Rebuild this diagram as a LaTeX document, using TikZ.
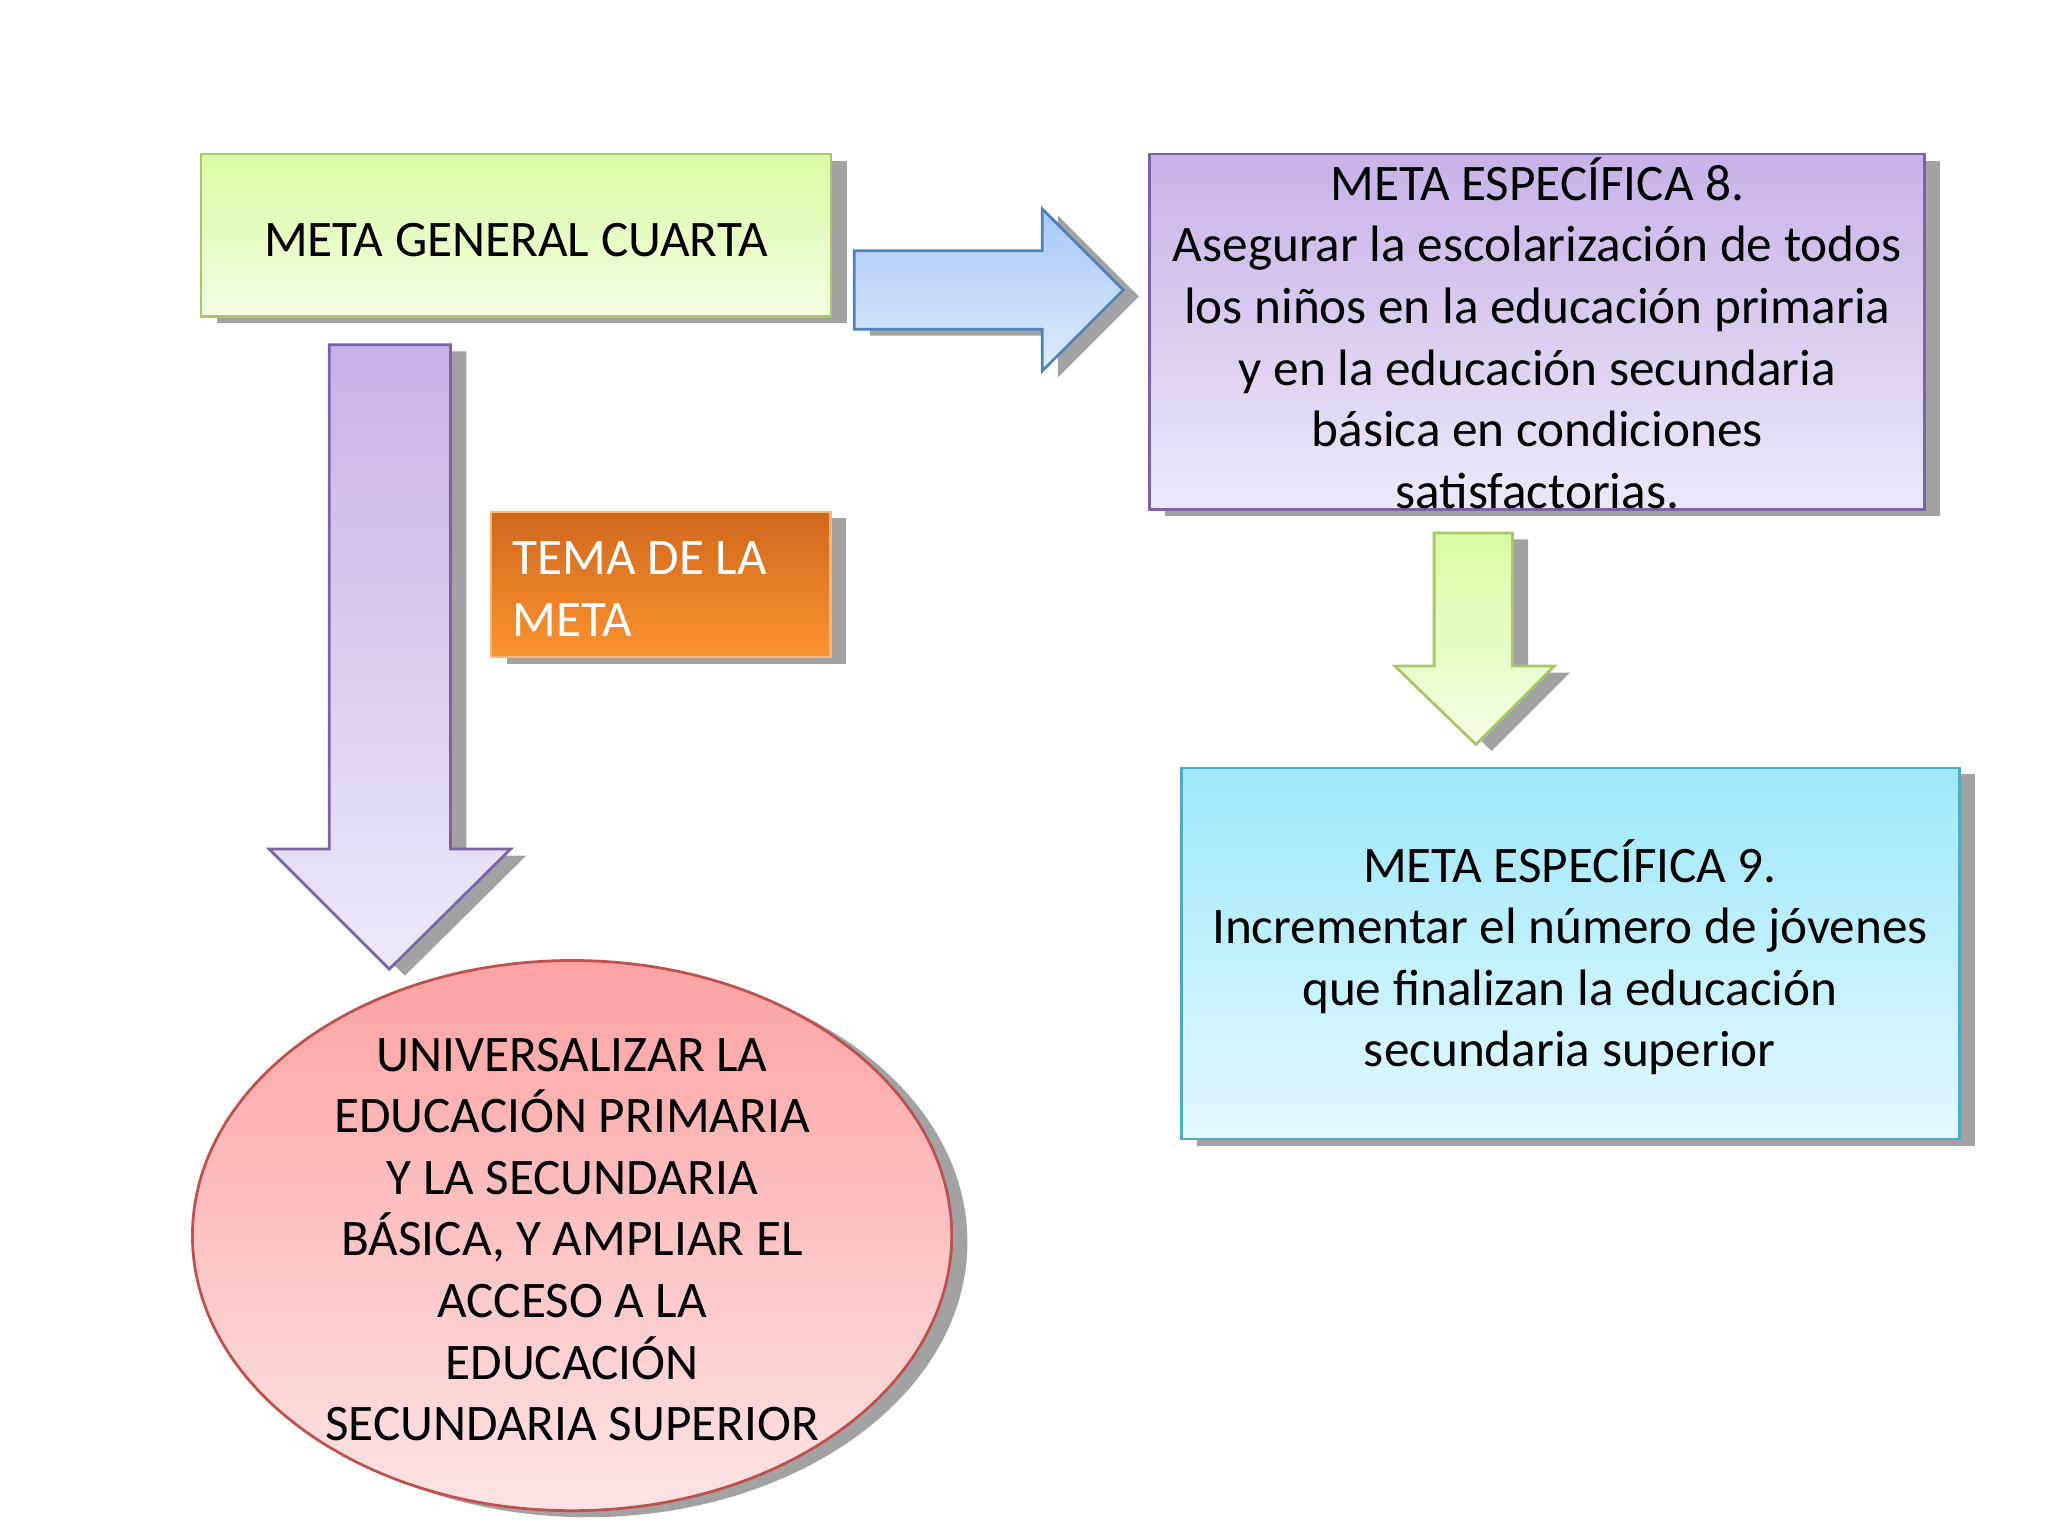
\documentclass[tikz,border=0pt]{standalone}
\usepackage{fontspec}
\setmainfont{Carlito}
\usetikzlibrary{shadows,shapes.geometric}
\definecolor{shd}{HTML}{A2A2A2}
\definecolor{gT}{HTML}{DAFBA4}
\definecolor{gB}{HTML}{F3FDE2}
\definecolor{gD}{HTML}{A9C66A}
\definecolor{bT}{HTML}{A8C8F8}
\definecolor{bB}{HTML}{DEEBFD}
\definecolor{bD}{HTML}{4F81BD}
\definecolor{pT}{HTML}{C8B2E8}
\definecolor{pB}{HTML}{EEE7F8}
\definecolor{pD}{HTML}{7A64A8}
\definecolor{cT}{HTML}{9EE8FC}
\definecolor{cB}{HTML}{E3F8FE}
\definecolor{cD}{HTML}{4BACC6}
\definecolor{oT}{HTML}{D0681C}
\definecolor{oB}{HTML}{FD9230}
\definecolor{oD}{HTML}{F9B77A}
\definecolor{rT}{HTML}{FCA2A2}
\definecolor{rB}{HTML}{FDE3E5}
\definecolor{rD}{HTML}{C0504D}
\begin{document}
\begin{tikzpicture}[x=0.01cm,y=-0.01cm,
  txt/.style={font=\fontsize{11.15}{13.4}\selectfont, align=center, inner sep=0},
  shbox/.style={inner sep=0, line width=0.6pt,
    drop shadow={shadow xshift=0.12cm, shadow yshift=-0.05cm, opacity=1, fill=shd}},
  shpoly/.style={fill=shd, xshift=0.12cm, yshift=-0.05cm},
  outline/.style={line width=0.6pt}]
\useasboundingbox (0,0) rectangle (1568,1176);

% META GENERAL CUARTA
\node[shbox, draw=gD, top color=gT, bottom color=gB,
      minimum width=4.82cm, minimum height=1.24cm] (mgc) at (395,180) {};
\node[txt] (mgct) at (395,184) {META GENERAL CUARTA};

% right block arrow
\path[shpoly] (654,192) -- (798,192) -- (798,160) -- (860,222) -- (798,284) -- (798,252) -- (654,252) -- cycle;
\path[outline, draw=bD, top color=bT, bottom color=bB]
  (654,192) -- (798,192) -- (798,160) -- (860,222) -- (798,284) -- (798,252) -- (654,252) -- cycle;

% META ESPECIFICA 8
\node[shbox, draw=pD, top color=pT, bottom color=pB,
      minimum width=5.93cm, minimum height=2.72cm] (me8) at (1176.5,254) {};
\node[txt] (me8t) at (1177,255) {META ESPECÍFICA 8.\\Asegurar la escolarización de todos\\los niños en la educación primaria\\y en la educación secundaria\\básica en condiciones\\satisfactorias.};

% green down arrow
\path[shpoly] (1098,408) -- (1158,408) -- (1158,510) -- (1190,510) -- (1130,570) -- (1068,510) -- (1098,510) -- cycle;
\path[outline, draw=gD, top color=gT, bottom color=gB]
  (1098,408) -- (1158,408) -- (1158,510) -- (1190,510) -- (1130,570) -- (1068,510) -- (1098,510) -- cycle;

% META ESPECIFICA 9
\node[shbox, draw=cD, top color=cT, bottom color=cB,
      minimum width=5.95cm, minimum height=2.84cm] (me9) at (1202.5,730) {};
\node[txt] (me9t) at (1202,733) {META ESPECÍFICA 9.\\Incrementar el número de jóvenes\\que finalizan la educación\\secundaria superior};

% purple down arrow
\path[shpoly] (252,264) -- (345,264) -- (345,650) -- (391,650) -- (298,742) -- (206,650) -- (252,650) -- cycle;
\path[outline, draw=pD, top color=pT, bottom color=pB]
  (252,264) -- (345,264) -- (345,650) -- (391,650) -- (298,742) -- (206,650) -- (252,650) -- cycle;

% TEMA DE LA META
\node[shbox, draw=oD, top color=oT, bottom color=oB,
      minimum width=2.60cm, minimum height=1.11cm] (tema) at (506,447.5) {};
\node[txt, align=left, anchor=west, text=white] (temat) at (392,451) {TEMA DE LA\\META};

% ellipse
\node[shbox, ellipse, draw=rD, top color=rT, bottom color=rB,
      minimum width=5.81cm, minimum height=4.21cm] (univ) at (438,946) {};
\node[txt] (univt) at (438,949) {UNIVERSALIZAR LA\\EDUCACIÓN PRIMARIA\\Y LA SECUNDARIA\\BÁSICA, Y AMPLIAR EL\\ACCESO A LA\\EDUCACIÓN\\SECUNDARIA SUPERIOR};
\end{tikzpicture}
\end{document}
